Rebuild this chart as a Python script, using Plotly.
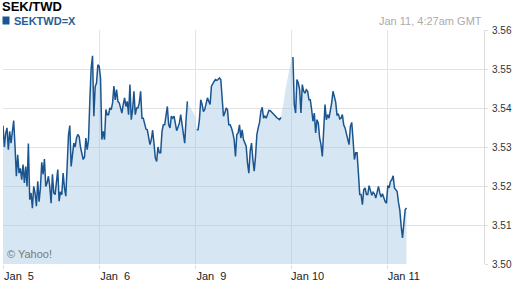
import plotly.graph_objects as go

# ---- data ----
title = "SEK/TWD"
symbol = "SEKTWD=X"
timestamp = "Jan 11, 4:27am GMT"
credit = "© Yahoo!"

trading_days = ["Jan\u00a0 5", "Jan\u00a0 6", "Jan\u00a0 9", "Jan 10", "Jan 11"]
sample_minutes = 20  # one quote every 20 minutes, x measured in trading days

rate = [
    3.5355, 3.5300, 3.5335, 3.5349, 3.5293, 3.5340, 3.5310, 3.5349, 3.5368, 3.5302,
    3.5225, 3.5280, 3.5233, 3.5245, 3.5216, 3.5255, 3.5208, 3.5250, 3.5199, 3.5309,
    3.5165, 3.5182, 3.5143, 3.5199, 3.5182, 3.5148, 3.5212, 3.5160, 3.5195, 3.5261,
    3.5230, 3.5269, 3.5199, 3.5208, 3.5225, 3.5199, 3.5156, 3.5230, 3.5182, 3.5178,
    3.5220, 3.5242, 3.5161, 3.5185, 3.5178, 3.5233, 3.5195, 3.5174, 3.5250, 3.5330,
    3.5355, 3.5250, 3.5280, 3.5310, 3.5300, 3.5323, 3.5332, 3.5327, 3.5300, 3.5285,
    3.5268, 3.5274, 3.5323, 3.5293, 3.5319, 3.5420, 3.5503, 3.5534, 3.5379, 3.5455,
    3.5464, 3.5511, 3.5507, 3.5477, 3.5319, 3.5340, 3.5319, 3.5396, 3.5383, 3.5383,
    3.5400, 3.5396, 3.5413, 3.5456, 3.5421, 3.5447, 3.5417, 3.5413, 3.5396, 3.5387,
    3.5409, 3.5426, 3.5404, 3.5417, 3.5383, 3.5460, 3.5370, 3.5396, 3.5443, 3.5383,
    3.5400, 3.5400, 3.5413, 3.5443, 3.5374, 3.5374, 3.5360, 3.5346, 3.5344, 3.5326,
    3.5306, 3.5319, 3.5343, 3.5310, 3.5272, 3.5263, 3.5300, 3.5285, 3.5285, 3.5340,
    3.5357, 3.5357, 3.5380, 3.5404, 3.5357, 3.5349, 3.5379, 3.5374, 3.5379, 3.5363,
    3.5342, 3.5351, 3.5361, 3.5383, 3.5357, 3.5334, 3.5310, 3.5370, 3.5417, 3.5408,
    3.5403, 3.5397, 3.5391, 3.5385, 3.5376, 3.5344, 3.5344, 3.5370, 3.5421, 3.5409,
    3.5391, 3.5396, 3.5409, 3.5426, 3.5417, 3.5409, 3.5456, 3.5464, 3.5468, 3.5473,
    3.5471, 3.5473, 3.5477, 3.5473, 3.5430, 3.5379, 3.5387, 3.5400, 3.5396, 3.5357,
    3.5357, 3.5349, 3.5336, 3.5319, 3.5276, 3.5332, 3.5336, 3.5357, 3.5323, 3.5344,
    3.5319, 3.5310, 3.5302, 3.5259, 3.5233, 3.5290, 3.5310, 3.5268, 3.5238, 3.5276,
    3.5332, 3.5349, 3.5363, 3.5391, 3.5402, 3.5374, 3.5379, 3.5374, 3.5385, 3.5394,
    3.5393, 3.5390, 3.5386, 3.5383, 3.5379, 3.5375, 3.5372, 3.5370, 3.5376, 3.5391,
    3.5413, 3.5438, 3.5460, 3.5477, 3.5494, 3.5511, 3.5525, 3.5531, 3.5409, 3.5387,
    3.5473, 3.5464, 3.5447, 3.5387, 3.5460, 3.5443, 3.5438, 3.5447, 3.5443, 3.5421,
    3.5421, 3.5396, 3.5366, 3.5387, 3.5336, 3.5370, 3.5361, 3.5323, 3.5306, 3.5276,
    3.5336, 3.5409, 3.5370, 3.5383, 3.5374, 3.5391, 3.5413, 3.5443, 3.5430, 3.5415,
    3.5381, 3.5385, 3.5372, 3.5374, 3.5383, 3.5357, 3.5349, 3.5336, 3.5326, 3.5306,
    3.5353, 3.5363, 3.5319, 3.5268, 3.5285, 3.5285, 3.5233, 3.5178, 3.5178, 3.5152,
    3.5191, 3.5195, 3.5178, 3.5178, 3.5201, 3.5191, 3.5176, 3.5184, 3.5180, 3.5169,
    3.5186, 3.5199, 3.5182, 3.5172, 3.5180, 3.5167, 3.5160, 3.5156, 3.5201, 3.5195,
    3.5212, 3.5216, 3.5226, 3.5195, 3.5191, 3.5186, 3.5158, 3.5138, 3.5097, 3.5067,
    3.5103, 3.5139, 3.5144,
]
# sample index ranges where only the area (not the line) is drawn
line_gaps = [(139, 144), (209, 216)]

y_ticks = [3.50, 3.51, 3.52, 3.53, 3.54, 3.55, 3.56]

# ---- derived ----
t = [i * sample_minutes / 1440 for i in range(len(rate))]
line_vals = [None if any(a <= i <= b for a, b in line_gaps) else v for i, v in enumerate(rate)]

LINE = "#1b5590"
FONT = "Arial, 'Liberation Sans', sans-serif"

W, H = 512, 288
ML, MR, MT, MB = 3, 28, 30, 24
PW, PH = W - ML - MR, H - MT - MB


def px(x):
    return (x - ML) / PW


def py(y):
    return (H - MB - y) / PH


fig = go.Figure()
fig.add_trace(go.Scatter(x=t, y=rate, mode="lines", line=dict(width=0),
                         fill="tozeroy", fillcolor="rgba(152,192,222,0.40)",
                         hoverinfo="skip", showlegend=False))
fig.add_trace(go.Scatter(x=t, y=line_vals, mode="lines",
                         line=dict(color=LINE, width=1.5), connectgaps=False,
                         showlegend=False, name=symbol))

fig.update_layout(
    width=W, height=H,
    margin=dict(l=ML, r=MR, t=MT, b=MB, pad=0),
    paper_bgcolor="white", plot_bgcolor="white",
    font=dict(family=FONT, size=11, color="#333"),
    showlegend=False,
    xaxis=dict(range=[0, 5], tickvals=list(range(len(trading_days))), ticktext=trading_days,
               showgrid=True, gridcolor="#e3e3e3", gridwidth=1, zeroline=False,
               showline=False, ticks="outside", ticklen=4, tickcolor="#e3e3e3",
               tickfont=dict(size=11, color="#222"), ticklabelshift=16,
               ticklabelstandoff=-2, automargin=False, fixedrange=True),
    yaxis=dict(range=[3.50, 3.56], side="right", tickvals=y_ticks, tickformat=".2f",
               showgrid=True, gridcolor="#e3e3e3", gridwidth=1, zeroline=False,
               showline=True, linecolor="#dcdcdc", ticks="outside", ticklen=3,
               tickcolor="#dcdcdc", tickfont=dict(size=10, color="#333"),
               ticklabelstandoff=2, automargin=False, fixedrange=True),
)

fig.add_shape(type="rect", xref="paper", yref="paper",
              x0=px(2.5), x1=px(9.5), y0=py(24.5), y1=py(16.5),
              fillcolor=LINE, line=dict(width=0))

annos = [
    dict(text="<b>" + title + "</b>", x=px(1), y=py(7), xanchor="left",
         font=dict(size=13, color="#000")),
    dict(text="<b>" + symbol + "</b>", x=px(13), y=py(21), xanchor="left",
         font=dict(size=11, color="#2a5d96")),
    dict(text=timestamp, x=px(483), y=py(21), xanchor="right",
         font=dict(size=11, color="#ababab")),
    dict(text=credit, x=px(6), y=py(254), xanchor="left",
         font=dict(size=11, color="#7a7a7a")),
]
for a in annos:
    fig.add_annotation(xref="paper", yref="paper", yanchor="middle", showarrow=False,
                       borderpad=0, **a)

fig.write_html("out.html")
